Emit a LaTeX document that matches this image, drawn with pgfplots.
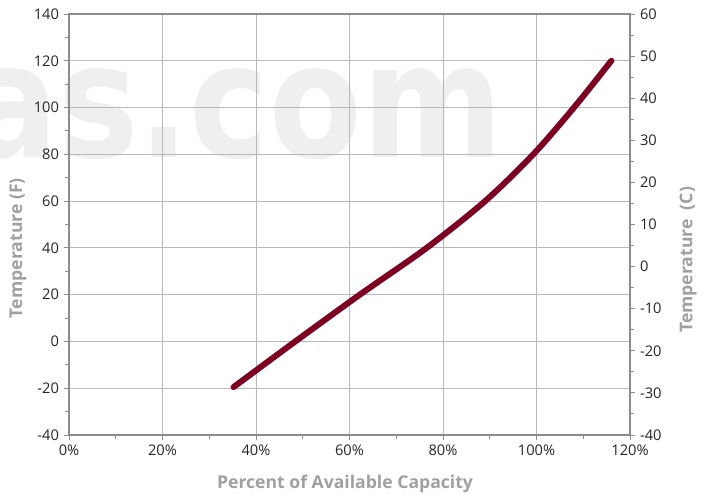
\documentclass[border=0pt]{standalone}
\usepackage{fontspec}
\setmainfont{Open Sans}
\newfontfamily\wmfont{DejaVu Sans}
\usepackage{pgfplots}
\usepackage{pgfplotstable}
\pgfplotsset{compat=1.18}

\definecolor{curve}{HTML}{7F0021}
\definecolor{axgray}{HTML}{8C8C8C}
\definecolor{gridgray}{HTML}{B8B8B8}
\definecolor{labgray}{HTML}{A0A0A0}
\definecolor{ticktext}{HTML}{262626}
\definecolor{wmark}{HTML}{EFEFEF}

% percent of available capacity vs temperature (F)
\pgfplotstableread{
pct   F
35.2  -19.5
48.4  0
62.2  20
76.5  40
89.0  60
99.3  80
108.0 100
116.0 120
}\capdata

\pgfplotsset{
  common/.style={
    scale only axis, width=420.75pt, height=315.75pt,
    xmin=0, xmax=120,
    tick align=outside,
    major tick length=4pt, minor tick length=3pt,
    axis line style={axgray, line width=0.9pt},
    tick style={axgray, line width=0.75pt},
    ticklabel style={font=\fontsize{11}{13}\selectfont, text=ticktext},
    /pgf/number format/assume math mode=true,
    label style={font=\fontsize{13.2}{15}\selectfont\bfseries, text=labgray},
  }
}

\begin{document}
\begin{tikzpicture}
% watermark behind the grid
\node[anchor=base east, inner sep=0, text=wmark, xscale=0.85,
      font=\wmfont\bfseries\fontsize{119}{119}\selectfont] at (325.5pt,208.5pt) {as.com};

\begin{axis}[common,
  ymin=-40, ymax=140,
  xtick distance=20, ytick distance=20,
  minor x tick num=1, minor y tick num=1,
  xtick pos=bottom, ytick pos=left,
  grid=major,
  grid style={gridgray, line width=0.75pt},
  xticklabel={\pgfmathprintnumber{\tick}\%},
  xlabel={Percent of Available Capacity},
  ylabel={Temperature (F)},
  xlabel style={at={(axis description cs:0.492,-0.1164)}, anchor=center},
  ylabel style={at={(axis description cs:-0.0909,0.444)}, anchor=center},
  clip=false,
]
\addplot[curve, line width=4.5pt, line cap=round, smooth] table[x=pct, y=F] {\capdata};
\coordinate (bl) at (axis cs:-14.76,-65.22);
\coordinate (tr) at (axis cs:136.68,145.99);
\end{axis}

\begin{axis}[common,
  ymin=-40, ymax=60,
  axis x line=none, axis y line*=right,
  ytick distance=10, minor y tick num=1,
  ylabel={Temperature\ \ (C)},
  ylabel style={at={(axis description cs:1.1034,0.416)}, anchor=center, rotate=0},
]
\end{axis}

\pgfresetboundingbox
\path[use as bounding box] (bl) rectangle (tr);
\end{tikzpicture}
\end{document}
